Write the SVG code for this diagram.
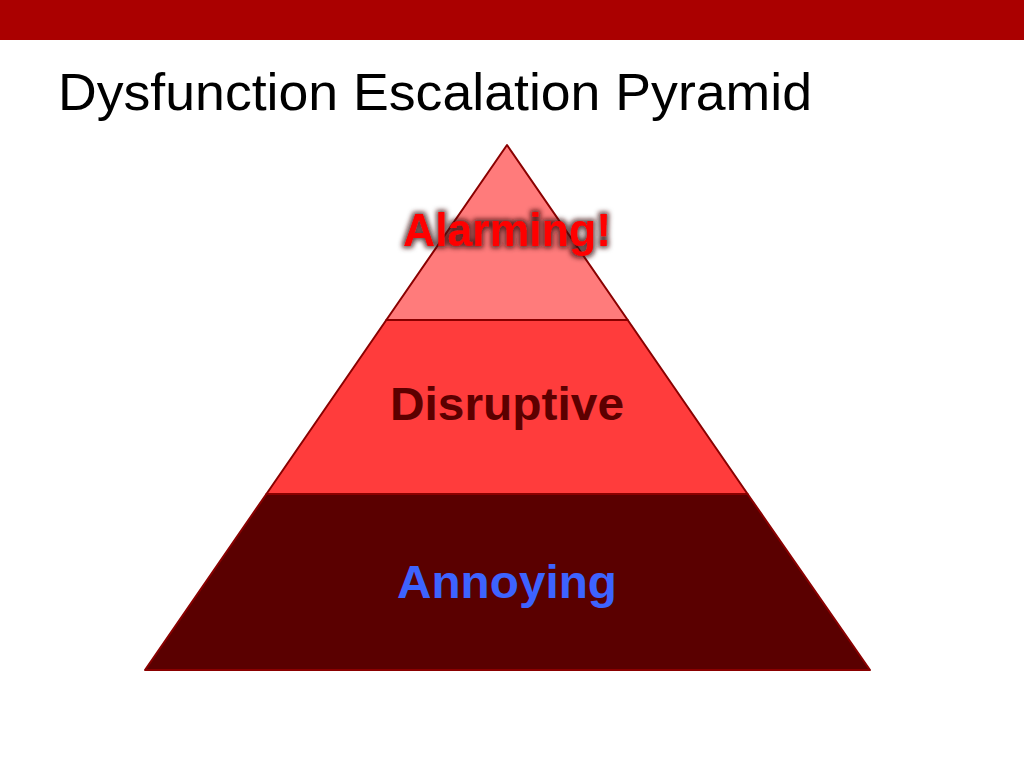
<svg xmlns="http://www.w3.org/2000/svg" width="1024" height="768" viewBox="0 0 1024 768">
<defs>
<style>
.lbl{font-family:"Liberation Sans",Arial,sans-serif;font-weight:bold;text-anchor:middle}
.tier{stroke:#8a0000;stroke-width:2;stroke-linejoin:round}
</style>
<filter id="glow" x="-20%" y="-40%" width="140%" height="180%">
<feMorphology in="SourceAlpha" operator="dilate" radius="2" result="d"/>
<feGaussianBlur in="d" stdDeviation="2.5" result="b"/>
<feFlood flood-color="#3a1010" flood-opacity="0.8"/>
<feComposite in2="b" operator="in" result="s"/>
<feMerge><feMergeNode in="s"/><feMergeNode in="SourceGraphic"/></feMerge>
</filter>
</defs>
<rect x="0" y="0" width="1024" height="768" fill="#ffffff"/>
<rect x="0" y="0" width="1024" height="40" fill="#aa0000"/>
<text x="58" y="110" font-family="Liberation Sans,Arial,sans-serif" font-size="52" fill="#000000" textLength="754" lengthAdjust="spacingAndGlyphs">Dysfunction Escalation Pyramid</text>
<g id="tier-annoying">
<polygon class="tier" points="266.4,494 747.6,494 870,670 145,670" fill="#5a0000"/>
<text class="lbl" x="507" y="598" font-size="47" fill="#3d63ff" textLength="220" lengthAdjust="spacingAndGlyphs">Annoying</text>
</g>
<g id="tier-disruptive">
<polygon class="tier" points="386.3,320 627.7,320 747.6,494 266.4,494" fill="#ff3c3c"/>
<text class="lbl" x="507" y="420" font-size="46" fill="#5c0000" textLength="234" lengthAdjust="spacingAndGlyphs">Disruptive</text>
</g>
<g id="tier-alarming">
<polygon class="tier" points="507,145 627.7,320 386.3,320" fill="#ff7b7b"/>
<text class="lbl" x="507" y="246" font-size="46" fill="#ff0000" filter="url(#glow)" textLength="208" lengthAdjust="spacingAndGlyphs">Alarming!</text>
</g>
</svg>
